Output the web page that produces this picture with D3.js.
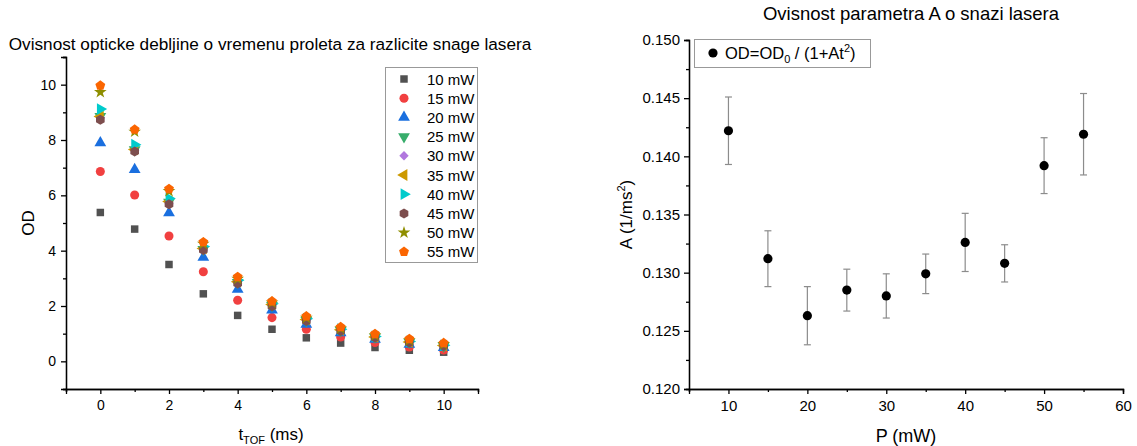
<!DOCTYPE html>
<html><head><meta charset="utf-8">
<script src="https://cdn.jsdelivr.net/npm/d3@7"></script>
<style>
html,body{margin:0;padding:0;background:#fff;}
svg{display:block;font-family:Arial,"Liberation Sans",sans-serif;}
</style></head>
<body><svg id="c" width="1137" height="446"></svg>
<script>
// ---------- data: left chart ----------
const tValues = [0,1,2,3,4,5,6,7,8,9,10];
const seriesNames = ["10 mW","15 mW","20 mW","25 mW","30 mW","35 mW","40 mW","45 mW","50 mW","55 mW"];
const od10 = [5.38,4.78,3.50,2.44,1.66,1.16,0.85,0.66,0.50,0.40,0.33];
const od15 = [6.86,6.01,4.53,3.24,2.21,1.58,1.16,0.88,0.68,0.52,0.41];
const od20 = [7.90,6.93,5.37,3.76,2.60,1.85,1.34,1.03,0.79,0.61,0.50];
const od25 = [8.85,7.65,5.75,4.05,2.85,2.02,1.48,1.12,0.87,0.69,0.56];
const od30 = [8.80,7.62,5.70,4.02,2.82,2.00,1.47,1.11,0.86,0.69,0.56];
const od35 = [8.85,7.66,5.78,4.08,2.88,2.05,1.51,1.14,0.88,0.70,0.57];
const od40 = [9.12,7.83,5.89,4.15,2.93,2.08,1.54,1.16,0.90,0.72,0.58];
const od45 = [8.73,7.58,5.68,4.02,2.81,1.99,1.46,1.10,0.86,0.68,0.55];
const od50 = [9.73,8.30,6.15,4.25,2.98,2.12,1.57,1.19,0.94,0.76,0.62];
const od55 = [9.97,8.38,6.23,4.31,3.05,2.17,1.63,1.24,0.99,0.81,0.66];
const odSeries = [od10,od15,od20,od25,od30,od35,od40,od45,od50,od55];
const seriesColors = ["#515151","#F14040","#1A6FDF","#37AD6B","#B177DE","#CC9900","#00CBCC","#7D4E4E","#8E8E00","#FB6501"];
const xTicksLeft = [0,2,4,6,8,10];
const yTicksLeft = [0,2,4,6,8,10];

// ---------- data: right chart ----------
const powers = [10,15,20,25,30,35,40,45,50,55];
const aValues = [0.1422,0.1312,0.1263,0.1285,0.1280,0.1299,0.1326,0.1308,0.1392,0.1419];
const aErrors = [0.0029,0.0024,0.0025,0.0018,0.0019,0.0017,0.0025,0.0016,0.0024,0.0035];
const xTicksRight = [10,20,30,40,50,60];
const yTicksRight = [0.120,0.125,0.130,0.135,0.140,0.145,0.150];

const svg = d3.select("#c");

// symbol generators
function polyPath(n, r, rot){
  const p = d3.path();
  for(let i=0;i<n;i++){
    const a = rot + i*2*Math.PI/n;
    const x = r*Math.cos(a), y = r*Math.sin(a);
    if(i===0) p.moveTo(x,y); else p.lineTo(x,y);
  }
  p.closePath();
  return p.toString();
}
const symbolDefs = [
  {path: d3.symbol(d3.symbolSquare, 56)(), rot:0},
  {path: d3.symbol(d3.symbolCircle, 64)(), rot:0},
  {path: d3.symbol(d3.symbolTriangle, 60)(), rot:0},
  {path: d3.symbol(d3.symbolTriangle, 60)(), rot:180},
  {path: d3.symbol(d3.symbolSquare, 44)(), rot:45},
  {path: d3.symbol(d3.symbolTriangle, 60)(), rot:-90},
  {path: d3.symbol(d3.symbolTriangle, 60)(), rot:90},
  {path: polyPath(6, 5, Math.PI/6), rot:0},
  {path: d3.symbol(d3.symbolStar, 50)(), rot:0},
  {path: polyPath(5, 5.2, -Math.PI/2), rot:0}
];

function minorTicks(lo, hi, step){ const a=[]; for(let v=lo; v<=hi+1e-9; v+=step) a.push(+v.toFixed(6)); return a; }

function styleAxis(g, fs){
  g.selectAll("path.domain").attr("stroke","#000").attr("stroke-width",1.3);
  g.selectAll(".tick line").attr("stroke","#000").attr("stroke-width",1.3);
  g.selectAll(".tick text").attr("font-size",fs).attr("font-family","Arial,'Liberation Sans',sans-serif").attr("fill","#000");
}

// ---------- LEFT CHART ----------
const xL = d3.scaleLinear().domain([-1,11]).range([66,478]);
const yL = d3.scaleLinear().domain([-1,11]).range([389,57]);
const gL = svg.append("g");

gL.append("text").attr("x",270).attr("y",50).attr("text-anchor","middle")
  .attr("font-size",17.2).text("Ovisnost opticke debljine o vremenu proleta za razlicite snage lasera");

const axG = gL.append("g");
axG.append("g").attr("transform",`translate(0,${yL(-1)})`)
  .call(d3.axisBottom(xL).tickValues(xTicksLeft).tickSize(5).tickPadding(6).tickFormat(d3.format("d")));
axG.append("g").attr("transform",`translate(${xL(-1)},0)`)
  .call(d3.axisLeft(yL).tickValues(yTicksLeft).tickSize(5).tickPadding(5).tickFormat(d3.format("d")));
axG.append("g").attr("transform",`translate(0,${yL(-1)})`)
  .call(d3.axisBottom(xL).tickValues(minorTicks(-1,11,2)).tickSize(3).tickFormat(""));
axG.append("g").attr("transform",`translate(${xL(-1)},0)`)
  .call(d3.axisLeft(yL).tickValues(minorTicks(-1,11,2)).tickSize(3).tickFormat(""));
axG.selectAll("g").each(function(){ styleAxis(d3.select(this), 14); });

gL.append("text").attr("transform",`translate(34,${(yL(-1)+yL(11))/2}) rotate(-90)`)
  .attr("text-anchor","middle").attr("font-size",17).text("OD");
const xtL = gL.append("text").attr("x",271).attr("y",440).attr("text-anchor","middle").attr("font-size",17);
xtL.append("tspan").text("t");
xtL.append("tspan").attr("font-size",11).attr("dy",4).text("TOF");
xtL.append("tspan").attr("dy",-4).text(" (ms)");

// points
odSeries.forEach((vals,si)=>{
  const def = symbolDefs[si];
  gL.append("g").selectAll("path").data(vals).join("path")
    .attr("d", def.path)
    .attr("transform",(d,i)=>`translate(${xL(tValues[i])},${yL(d)}) rotate(${def.rot})`)
    .attr("fill", seriesColors[si]);
});

// legend
const legL = gL.append("g");
legL.append("rect").attr("x",385.5).attr("y",67.5).attr("width",92).attr("height",195)
  .attr("fill","#fff").attr("stroke","#999").attr("stroke-width",1);
seriesNames.forEach((name,si)=>{
  const y = 79 + si*19.2;
  const def = symbolDefs[si];
  legL.append("path").attr("d",def.path).attr("transform",`translate(404,${y}) rotate(${def.rot})`).attr("fill",seriesColors[si]);
  legL.append("text").attr("x",427).attr("y",y+5.5).attr("font-size",15).text(name);
});

// ---------- RIGHT CHART ----------
const xR = d3.scaleLinear().domain([5,60]).range([689,1123]);
const yR = d3.scaleLinear().domain([0.120,0.150]).range([389,40]);
const gR = svg.append("g");

gR.append("text").attr("x",911).attr("y",20).attr("text-anchor","middle")
  .attr("font-size",18.5).text("Ovisnost parametra A o snazi lasera");

const axR = gR.append("g");
axR.append("g").attr("transform",`translate(0,${yR(0.120)})`)
  .call(d3.axisBottom(xR).tickValues(xTicksRight).tickSize(5).tickPadding(6).tickFormat(d3.format("d")));
axR.append("g").attr("transform",`translate(${xR(5)},0)`)
  .call(d3.axisLeft(yR).tickValues(yTicksRight).tickSize(5).tickPadding(4).tickFormat(d3.format(".3f")));
axR.append("g").attr("transform",`translate(0,${yR(0.120)})`)
  .call(d3.axisBottom(xR).tickValues(minorTicks(5,55,10)).tickSize(3).tickFormat(""));
axR.append("g").attr("transform",`translate(${xR(5)},0)`)
  .call(d3.axisLeft(yR).tickValues(minorTicks(0.1225,0.1475,0.005)).tickSize(3).tickFormat(""));
axR.selectAll("g").each(function(){ styleAxis(d3.select(this), 15); });

const ytR = gR.append("text").attr("transform",`translate(632,${(yR(0.120)+yR(0.150))/2}) rotate(-90)`)
  .attr("text-anchor","middle").attr("font-size",17);
ytR.append("tspan").text("A (1/ms");
ytR.append("tspan").attr("font-size",11).attr("dy",-7).text("2");
ytR.append("tspan").attr("dy",7).text(")");
gR.append("text").attr("x",906).attr("y",442).attr("text-anchor","middle").attr("font-size",18).text("P (mW)");

// error bars
const eb = gR.append("g").attr("stroke","#8c8c8c").attr("stroke-width",1.2);
powers.forEach((p,i)=>{
  const x = xR(p), y0 = yR(aValues[i]-aErrors[i]), y1 = yR(aValues[i]+aErrors[i]);
  eb.append("line").attr("x1",x).attr("x2",x).attr("y1",y0).attr("y2",y1);
  eb.append("line").attr("x1",x-3.5).attr("x2",x+3.5).attr("y1",y0).attr("y2",y0);
  eb.append("line").attr("x1",x-3.5).attr("x2",x+3.5).attr("y1",y1).attr("y2",y1);
});
gR.append("g").selectAll("circle").data(powers).join("circle")
  .attr("cx",d=>xR(d)).attr("cy",(d,i)=>yR(aValues[i])).attr("r",4.6).attr("fill","#000");

// legend right
const legR = gR.append("g");
legR.append("rect").attr("x",694.5).attr("y",39.5).attr("width",176).attr("height",28)
  .attr("fill","#fff").attr("stroke","#999");
legR.append("circle").attr("cx",713).attr("cy",53).attr("r",4.6).attr("fill","#000");
const lt = legR.append("text").attr("x",725).attr("y",59).attr("font-size",16.5);
lt.append("tspan").text("OD=OD");
lt.append("tspan").attr("font-size",11).attr("dy",4).text("0");
lt.append("tspan").attr("dy",-4).text(" / (1+At");
lt.append("tspan").attr("font-size",11).attr("dy",-7).text("2");
lt.append("tspan").attr("dy",7).text(")");
</script></body></html>
